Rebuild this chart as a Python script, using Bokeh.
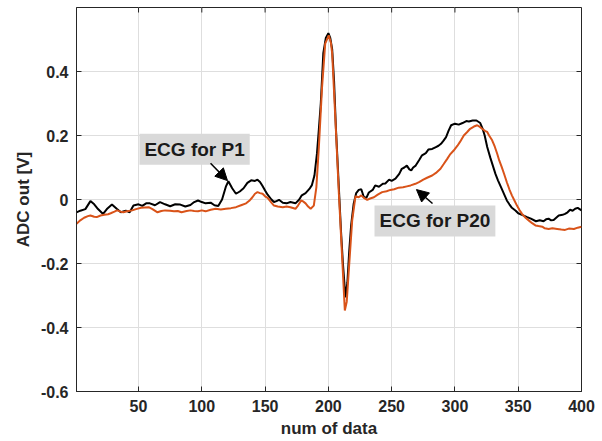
from bokeh.plotting import figure
from bokeh.models import Range1d, FixedTicker, Label, Arrow, NormalHead
from bokeh.embed import file_html
from bokeh.resources import INLINE

# ---- data ----
p1_x = [1, 4, 8, 12, 15, 18, 22, 25, 29, 33, 36, 40, 43, 46, 50, 53, 56, 59, 63, 67,
        71, 75, 79, 83, 87, 91, 94, 97, 100, 103, 107, 110, 113, 116, 119, 121, 124, 127,
        130, 133, 136, 139, 142, 144, 146, 148, 150, 152, 155, 157, 159, 161, 164, 167,
        170, 174, 177, 179, 182, 185, 187, 189, 191, 192.5, 194, 196, 198, 200, 201.5,
        203, 204.5, 206, 208, 210, 211.5, 213.5, 215, 216.5, 218, 220, 222, 224, 226,
        228, 230, 232, 235, 237, 240, 243, 245, 248, 250, 253, 256, 258, 260, 262, 264,
        265.5, 267, 269, 272, 274, 277, 279, 282, 285, 287, 289, 291, 293, 295, 297, 300,
        303, 306, 309, 311, 314, 317, 320, 322, 323.5, 325.5, 328, 330, 332, 334, 337,
        339, 341, 343, 345, 348, 350, 353, 357, 360, 364, 367, 370, 372, 374, 376, 378,
        380, 382, 385, 387, 389, 391, 393, 395, 397, 400]
p1_y = [-0.040, -0.035, -0.030, -0.005, -0.015, -0.030, -0.045, -0.030, -0.016, -0.030,
        -0.040, -0.035, -0.040, -0.019, -0.015, -0.020, -0.012, -0.012, -0.018, -0.008,
        -0.015, -0.021, -0.015, -0.016, -0.022, -0.017, -0.008, -0.003, -0.008, -0.012,
        -0.010, -0.018, -0.020, 0.000, 0.040, 0.057, 0.035, 0.018, 0.025, 0.035, 0.052,
        0.060, 0.058, 0.062, 0.055, 0.042, 0.028, 0.015, 0.000, -0.008, -0.005, -0.001,
        -0.010, -0.012, -0.008, -0.012, 0.000, 0.013, 0.020, 0.033, 0.045, 0.075, 0.144,
        0.220, 0.300, 0.457, 0.505, 0.520, 0.505, 0.470, 0.370, 0.220, 0.060, -0.100,
        -0.200, -0.306, -0.260, -0.160, -0.080, -0.013, 0.020, 0.030, 0.032, 0.008,
        0.005, 0.022, 0.030, 0.044, 0.040, 0.049, 0.050, 0.062, 0.058, 0.065, 0.080,
        0.096, 0.100, 0.106, 0.094, 0.091, 0.100, 0.106, 0.125, 0.138, 0.145, 0.156,
        0.158, 0.164, 0.168, 0.174, 0.184, 0.195, 0.215, 0.232, 0.237, 0.234, 0.239,
        0.245, 0.244, 0.247, 0.247, 0.239, 0.220, 0.200, 0.164, 0.130, 0.105, 0.080,
        0.060, 0.033, 0.015, -0.003, -0.015, -0.026, -0.035, -0.043, -0.048, -0.055,
        -0.060, -0.068, -0.065, -0.068, -0.062, -0.060, -0.065, -0.064, -0.057, -0.050,
        -0.048, -0.045, -0.040, -0.032, -0.035, -0.029, -0.026, -0.034]

p20_x = [1, 4, 7, 10, 12, 15, 17, 20, 23, 26, 28, 31, 33, 36, 38, 41, 45, 48, 52, 55,
         58, 61, 65, 68, 71, 75, 78, 81, 84, 88, 91, 94, 97, 100, 103, 107, 111, 115,
         119, 123, 127, 131, 135, 138, 140, 142, 144, 146, 148, 150, 152, 155, 157, 160,
         164, 167, 170, 174, 176, 178.5, 180, 182, 184, 186, 188.5, 190.5, 192.5, 195,
         197.5, 200.3, 202, 203, 205.6, 208.3, 211, 213, 214.5, 216, 218.8, 221.4, 224,
         226, 228, 230.7, 233, 236, 239, 242.5, 246, 249, 252, 255.6, 259, 262, 265,
         268.8, 272, 275, 278, 282, 285, 288.6, 291, 293.9, 296, 299, 302, 304, 307,
         309.7, 312, 315, 317.6, 320, 321.5, 324, 325.5, 327, 329.4, 331.5, 333.4, 335,
         337, 339, 341, 343, 345, 347, 349, 351, 353, 356, 358.5, 361, 363.6, 366, 369,
         371, 374, 377, 380.8, 384, 387, 390, 394, 397, 400]
p20_y = [-0.076, -0.065, -0.057, -0.052, -0.050, -0.054, -0.055, -0.050, -0.048, -0.046,
         -0.043, -0.038, -0.034, -0.038, -0.040, -0.037, -0.034, -0.030, -0.026, -0.025,
         -0.024, -0.030, -0.040, -0.036, -0.034, -0.035, -0.037, -0.036, -0.040, -0.036,
         -0.034, -0.036, -0.037, -0.034, -0.037, -0.032, -0.029, -0.031, -0.029, -0.027,
         -0.024, -0.018, -0.012, -0.002, 0.007, 0.018, 0.023, 0.020, 0.018, 0.010, 0.005,
         -0.010, -0.019, -0.022, -0.024, -0.022, -0.024, -0.029, -0.019, -0.003, -0.006,
         -0.012, -0.022, -0.029, -0.019, 0.038, 0.164, 0.350, 0.487, 0.513, 0.490, 0.457,
         0.247, 0.019, -0.190, -0.347, -0.320, -0.230, -0.066, 0.010, 0.007, 0.013, 0.005,
         -0.001, 0.003, 0.007, 0.015, 0.023, 0.026, 0.030, 0.032, 0.037, 0.038, 0.041,
         0.044, 0.049, 0.055, 0.062, 0.068, 0.075, 0.083, 0.096, 0.110, 0.127, 0.140,
         0.153, 0.168, 0.180, 0.200, 0.211, 0.221, 0.228, 0.232, 0.226, 0.221, 0.214,
         0.211, 0.200, 0.185, 0.165, 0.143, 0.122, 0.101, 0.078, 0.054, 0.032, 0.013,
         -0.003, -0.019, -0.033, -0.045, -0.058, -0.066, -0.074, -0.081, -0.083, -0.085,
         -0.090, -0.092, -0.090, -0.092, -0.094, -0.095, -0.091, -0.092, -0.088, -0.085]

x_ticks = [50, 100, 150, 200, 250, 300, 350, 400]
y_ticks = [-0.6, -0.4, -0.2, 0.0, 0.2, 0.4]
y_tick_labels = ["-0.6", "-0.4", "-0.2", "0", "0.2", "0.4"]

FONT = "Liberation Sans"
TXT = "#262626"
X0, X1, Y0, Y1 = 1, 400, -0.6, 0.6
W, H = 602, 441
BL, BR, BT, BB = 76, 21, 7, 50

p = figure(width=W, height=H, x_range=Range1d(X0, X1), y_range=Range1d(Y0, Y1),
           output_backend="svg", toolbar_location=None,
           min_border_left=BL, min_border_right=BR, min_border_top=BT, min_border_bottom=BB)
p.background_fill_color = "white"
p.border_fill_color = "white"
p.outline_line_color = TXT
p.outline_line_width = 1

for ax in (p.xaxis[0], p.yaxis[0]):
    ax.major_tick_in = 5
    ax.major_tick_out = 0
    ax.minor_tick_line_color = None
    ax.axis_line_color = TXT
    ax.major_tick_line_color = TXT
    ax.major_label_text_font = FONT
    ax.major_label_text_font_style = "bold"
    ax.major_label_text_color = TXT
    ax.major_label_text_font_size = "16px"
    ax.axis_label_text_font = FONT
    ax.axis_label_text_font_style = "bold"
    ax.axis_label_text_font_size = "17px"
    ax.axis_label_text_color = TXT

p.xaxis.ticker = FixedTicker(ticks=x_ticks)
p.yaxis.ticker = FixedTicker(ticks=y_ticks)
p.yaxis.major_label_overrides = {v: s for v, s in zip(y_ticks, y_tick_labels)}
p.xaxis.major_label_standoff = 8
p.yaxis.major_label_standoff = 8
p.xaxis.axis_label = "num of data"
p.yaxis.axis_label = "ADC out [V]"
p.xaxis.axis_label_standoff = 4
p.yaxis.axis_label_standoff = 5

p.xgrid.ticker = FixedTicker(ticks=x_ticks)
p.ygrid.ticker = FixedTicker(ticks=y_ticks)
p.grid.grid_line_color = "#DEDEDE"
p.grid.grid_line_width = 1

# inward ticks on the top and right edges (MATLAB box style), 5 px long
fw, fh = W - BL - BR, H - BT - BB
tx = 5 * (X1 - X0) / fw
ty = 5 * (Y1 - Y0) / fh
p.segment(x0=x_ticks, y0=[Y1] * len(x_ticks), x1=x_ticks, y1=[Y1 - ty] * len(x_ticks),
          line_color=TXT, line_width=1)
p.segment(x0=[X1] * len(y_ticks), y0=y_ticks, x1=[X1 - tx] * len(y_ticks), y1=y_ticks,
          line_color=TXT, line_width=1)

p.line(p1_x, p1_y, line_color="#000000", line_width=2)
p.line(p20_x, p20_y, line_color="#D95319", line_width=2)

# annotations
for (lx, ly, txt) in [(94.3, 0.157, "ECG for P1"), (284.2, -0.067, "ECG for P20")]:
    p.add_layout(Label(x=lx, y=ly, text=txt, text_align="center", text_baseline="middle",
                       text_font=FONT, text_font_style="bold", text_font_size="19px",
                       text_color="#1A1A1A", background_fill_color="#D9D9D9", padding=5))

for (xs, ys, xe, ye) in [(106.9, 0.113, 120.3, 0.059), (282.3, -0.0125, 269.6, 0.031)]:
    p.add_layout(Arrow(end=NormalHead(size=12, fill_color="black", line_color="black"),
                       x_start=xs, y_start=ys, x_end=xe, y_end=ye,
                       line_color="black", line_width=1.5))

open("out.html", "w").write(file_html(p, INLINE))
